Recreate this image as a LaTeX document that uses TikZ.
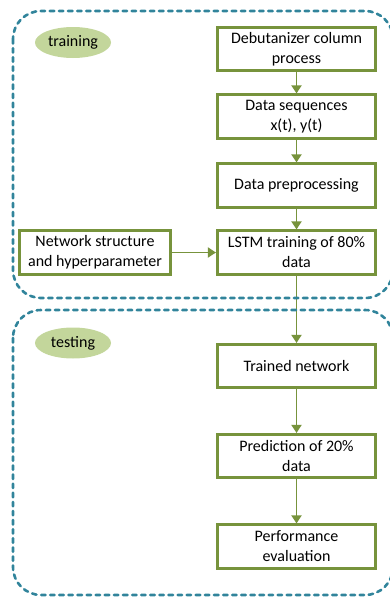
\documentclass[tikz,border=0pt]{standalone}
\usepackage{fontspec}
\setmainfont{Carlito}
\usetikzlibrary{arrows.meta,shapes.geometric}
\definecolor{boxgreen}{HTML}{77933C}
\definecolor{tagfill}{HTML}{C3D69B}
\definecolor{groupblue}{HTML}{31849B}
\begin{document}
\begin{tikzpicture}[x=1pt, y=-1pt,
		stage/.style={draw=boxgreen, line width=2.6pt, fill=white, minimum width=158.5pt, minimum height=43.5pt, align=center, inner sep=2pt, font=\fontsize{16}{20}\selectfont},
		tag/.style={ellipse, fill=tagfill, minimum width=76pt, minimum height=31pt, inner sep=0pt, font=\fontsize{16}{20}\selectfont},
		flow/.style={boxgreen, line width=1.8pt, -{Triangle[width=10pt,length=8pt]}},
		group/.style={groupblue, line width=2.6pt, dash pattern=on 4.5pt off 4.6pt, line cap=round, rounded corners=28pt}]
		\useasboundingbox (0,0) rectangle (390,597);

		\node[tag] (train) at (73,42.5) {training};
		\node[tag] (test) at (73,343) {testing};

		\node[stage] (deb) at (296.5,49) {Debutanizer column\\process};
		\node[stage] (seq) at (296.5,116.5) {Data sequences\\x(t), y(t)};
		\node[stage] (prep) at (296.5,185.5) {Data preprocessing};
		\node[stage] (lstm) at (296.5,252.5) {LSTM training of 80\%\\data};
		\node[stage, minimum width=151.5pt] (net) at (95,252.5) {Network structure\\and hyperparameter};

		\node[stage] (trained) at (296.5,366) {Trained network};
		\node[stage] (pred) at (296.5,456) {Prediction of 20\%\\data};
		\node[stage] (perf) at (296.5,546.5) {Performance\\evaluation};

		\draw[flow] (deb) -- (seq);
		\draw[flow] (seq) -- (prep);
		\draw[flow] (prep) -- (lstm);
		\draw[flow] (net) -- (lstm);
		\draw[flow] (lstm) -- (trained);
		\draw[flow] (trained) -- (pred);
		\draw[flow] (pred) -- (perf);

		% dashed groups
		\draw[group] (13,11) rectangle (393,298);
		\draw[group] (13,310) rectangle (393,595);
	\end{tikzpicture}
\end{document}
